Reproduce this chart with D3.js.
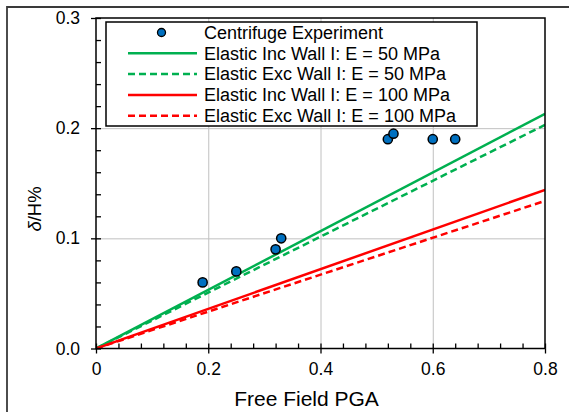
<!DOCTYPE html>
<html>
<head>
<meta charset="utf-8">
<script src="https://cdn.jsdelivr.net/npm/d3@7"></script>
<style>
  html, body { margin: 0; padding: 0; background: #fff; }
  svg { display: block; font-family: "Liberation Sans", Arial, sans-serif; }
</style>
</head>
<body>
<script>
// Centrifuge measurements: free-field PGA vs. normalised wall displacement
const pga = [0.19, 0.25, 0.32, 0.33, 0.52, 0.53, 0.60, 0.64];
const drift = [0.06, 0.07, 0.09, 0.10, 0.19, 0.195, 0.19, 0.19];

// Elastic model predictions (straight lines from the origin)
const modelPga = [0, 0.8];
const incWallE50 = [0, 0.213];
const excWallE50 = [0, 0.203];
const incWallE100 = [0, 0.144];
const excWallE100 = [0, 0.134];

const xTicks = [0, 0.2, 0.4, 0.6, 0.8];
const xTickLabels = ["0", "0.2", "0.4", "0.6", "0.8"];
const yTicks = [0, 0.1, 0.2, 0.3];
const yTickLabels = ["0.0", "0.1", "0.2", "0.3"];

const seriesNames = [
  "Centrifuge Experiment",
  "Elastic Inc Wall I: E = 50 MPa",
  "Elastic Exc Wall I: E = 50 MPa",
  "Elastic Inc Wall I: E = 100 MPa",
  "Elastic Exc Wall I: E = 100 MPa"
];

const W = 569, H = 412;
const pLeft = 96, pRight = 545, pTop = 18, pBottom = 348.5;
const green = "#00b050", red = "#ff0000", blue = "#0070c0";

const svg = d3.select("body").append("svg").attr("width", W).attr("height", H);
svg.append("rect").attr("width", W).attr("height", H).attr("fill", "#fff");

// outer chart frame
svg.append("path").attr("d", `M7,${H} V7 H${W}`)
  .attr("fill", "none").attr("stroke", "#3a3a3a").attr("stroke-width", 1.8);

const x = d3.scaleLinear().domain([0, 0.8]).range([pLeft, pRight]);
const y = d3.scaleLinear().domain([0, 0.3]).range([pBottom, pTop]);

// grid
svg.append("g").attr("transform", `translate(0,${pBottom})`)
  .call(d3.axisBottom(x).tickValues(xTicks.slice(1, -1)).tickSize(-(pBottom - pTop)).tickFormat(""))
  .call(g => g.select(".domain").remove())
  .call(g => g.selectAll("line").attr("stroke", "#c0c0c0").attr("stroke-width", 1));
svg.append("g").attr("transform", `translate(${pLeft},0)`)
  .call(d3.axisLeft(y).tickValues(yTicks.slice(1, -1)).tickSize(-(pRight - pLeft)).tickFormat(""))
  .call(g => g.select(".domain").remove())
  .call(g => g.selectAll("line").attr("stroke", "#c0c0c0").attr("stroke-width", 1));

// model lines
svg.append("clipPath").attr("id", "plot-clip")
  .append("rect").attr("x", pLeft).attr("y", pTop).attr("width", pRight - pLeft).attr("height", pBottom - pTop);

const models = [
  { ys: incWallE50, color: green, dash: null },
  { ys: excWallE50, color: green, dash: "7,4" },
  { ys: incWallE100, color: red, dash: null },
  { ys: excWallE100, color: red, dash: "7,4" }
];
const line = d3.line().x(d => x(d[0])).y(d => y(d[1]));
const linesG = svg.append("g").attr("clip-path", "url(#plot-clip)");
models.forEach(m => {
  linesG.append("path")
    .attr("d", line(modelPga.map((p, i) => [p, m.ys[i]])))
    .attr("fill", "none").attr("stroke", m.color).attr("stroke-width", 2.5)
    .attr("stroke-dasharray", m.dash);
});

// experiment points
svg.append("g").selectAll("circle").data(pga.map((p, i) => [p, drift[i]])).join("circle")
  .attr("cx", d => x(d[0])).attr("cy", d => y(d[1])).attr("r", 4.6)
  .attr("fill", blue).attr("stroke", "#000").attr("stroke-width", 1.5);

// plot frame
svg.append("rect").attr("x", pLeft).attr("y", pTop).attr("width", pRight - pLeft).attr("height", pBottom - pTop)
  .attr("fill", "none").attr("stroke", "#000").attr("stroke-width", 1.5);

// axes: major ticks cross the frame, minor ticks point inward
const tickStyle = g => {
  g.select(".domain").remove();
  g.selectAll("line").attr("stroke", "#000").attr("stroke-width", 1.3);
};
const xMinor = d3.range(0, 0.8001, 0.04).map(v => +v.toFixed(2));
const yMinor = d3.range(0, 0.3001, 0.02).map(v => +v.toFixed(2));

svg.append("g").attr("transform", `translate(0,${pBottom})`)
  .call(d3.axisBottom(x).tickValues(xMinor).tickSize(-5).tickFormat("")).call(tickStyle);
svg.append("g").attr("transform", `translate(0,${pBottom})`)
  .call(d3.axisBottom(x).tickValues(xTicks).tickSize(5).tickPadding(9)
    .tickFormat((d, i) => xTickLabels[i]))
  .call(tickStyle)
  .call(g => g.selectAll("text").attr("font-size", 17.5).attr("fill", "#000")
    .attr("font-family", "Liberation Sans, Arial, sans-serif"));

svg.append("g").attr("transform", `translate(${pLeft},0)`)
  .call(d3.axisLeft(y).tickValues(yMinor).tickSize(-5).tickFormat("")).call(tickStyle);
svg.append("g").attr("transform", `translate(${pLeft},0)`)
  .call(d3.axisLeft(y).tickValues(yTicks).tickSize(5).tickPadding(11)
    .tickFormat((d, i) => yTickLabels[i]))
  .call(tickStyle)
  .call(g => g.selectAll("text").attr("font-size", 17.5).attr("fill", "#000")
    .attr("font-family", "Liberation Sans, Arial, sans-serif"));

// axis titles
svg.append("text").attr("x", (pLeft + pRight) / 2 - 14).attr("y", 406)
  .attr("text-anchor", "middle").attr("font-size", 21).attr("fill", "#000")
  .text("Free Field PGA");

const yt = svg.append("text")
  .attr("transform", "translate(41,209) rotate(-90)")
  .attr("text-anchor", "middle").attr("font-size", 18.5).attr("fill", "#000");
yt.append("tspan").attr("font-style", "italic").text("δ");
yt.append("tspan").text("/H%");

// legend
const lg = svg.append("g");
lg.append("rect").attr("x", 106).attr("y", 22).attr("width", 371).attr("height", 104)
  .attr("fill", "#fff").attr("stroke", "#000").attr("stroke-width", 1.5);
const rowY = i => 32.5 + i * 20.8;
lg.append("circle").attr("cx", 161.5).attr("cy", rowY(0)).attr("r", 4)
  .attr("fill", blue).attr("stroke", "#000").attr("stroke-width", 1.3);
models.forEach((m, i) => {
  lg.append("line").attr("x1", 128).attr("x2", 197).attr("y1", rowY(i + 1)).attr("y2", rowY(i + 1))
    .attr("stroke", m.color).attr("stroke-width", 2.5).attr("stroke-dasharray", m.dash);
});
lg.selectAll("text.lab").data(seriesNames).join("text").attr("class", "lab")
  .attr("x", 204).attr("y", (d, i) => rowY(i)).attr("dy", "0.35em")
  .attr("font-size", 18).attr("fill", "#000").text(d => d);
</script>
</body>
</html>
